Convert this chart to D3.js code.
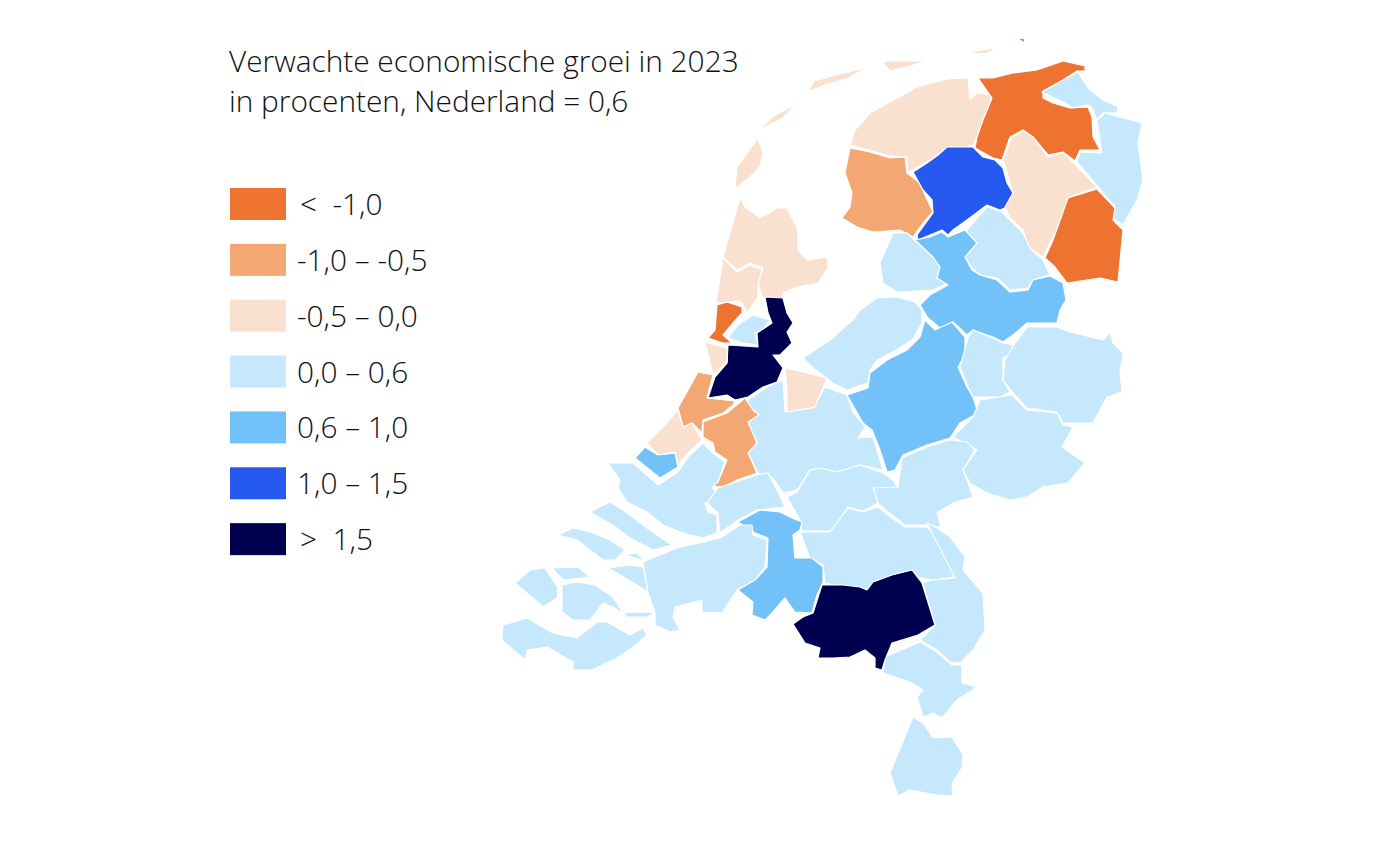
<!DOCTYPE html>
<html>
<head>
<meta charset="utf-8">
<script src="https://cdnjs.cloudflare.com/ajax/libs/d3/7.8.5/d3.min.js"></script>
<style>
  html, body { margin: 0; padding: 0; background: #fff; }
  svg { display: block; }
  text { font-family: "Open Sans", "Noto Sans", sans-serif; font-weight: 300; fill: #101014; }
</style>
</head>
<body>
<script>
// title + legend
var title_lines = ["Verwachte economische groei in 2023", "in procenten, Nederland = 0,6"];
var class_breaks = [-1.0, -0.5, 0.0, 0.6, 1.0, 1.5];
var class_colors = ["#ee7230", "#f3a873", "#fae0cf", "#c5e8fc", "#72c2f9", "#2559f0", "#000050"];
var class_labels = ["<  -1,0", "-1,0 – -0,5", "-0,5 – 0,0", "0,0 – 0,6", "0,6 – 1,0", "1,0 – 1,5", ">  1,5"];

var region_names = [
  "Rottumeroog", "Noord-Friesland", "Zuidwest-Friesland", "Zuidoost-Friesland", "Oost-Groningen overig",
  "Delfzijl e.o.", "Oost-Groningen", "Noord-Drenthe", "Zuidoost-Drenthe", "Zuidwest-Drenthe",
  "Noordoostpolder", "Noord-Overijssel", "Flevoland", "Veluwe", "Zuidwest-Overijssel", "Twente",
  "Achterhoek", "Arnhem/Nijmegen", "Utrecht", "Gooi en Vechtstreek", "Kop van Noord-Holland", "Alkmaar e.o.",
  "IJmond", "Zaanstreek", "Groot-Amsterdam", "Agglomeratie Haarlem", "Leiden e.o.", "Oost-Zuid-Holland",
  "Den Haag", "Delft en Westland", "Groot-Rijnmond", "Zuidoost-Zuid-Holland", "Rivierenland",
  "Noordoost-Noord-Brabant", "Noord-Limburg", "Midden-Limburg", "Zuid-Limburg", "Zuidoost-Noord-Brabant",
  "Midden-Noord-Brabant", "West-Noord-Brabant", "Zeeland"
];
var region_values = [
  -1.2, -0.2, -0.7, 1.2, -1.3,
  0.3, 0.4, -0.3, -1.2, 0.3,
  0.4, 0.8, 0.5, 0.8, 0.5, 0.4,
  0.4, 0.5, 0.5, -0.2, -0.2, -0.3,
  -1.1, 0.3, 1.8, -0.2, -0.7, -0.8,
  -0.1, 0.8, 0.4, 0.3, 0.5,
  0.4, 0.4, 0.3, 0.2, 1.9,
  0.8, 0.4, 0.3
];

// traced outlines, one list of rings per region
var region_shapes = [
  [[[1018,39],[1024,38],[1025,43],[1019,44]]],
  [[[850,145],[855,130],[870,113],[890,102],[917,87],[947,79],[968,78],[970,100],[977,93],[992,95],[987,113],[980,130],[973,145],[963,148],[948,147],[938,155],[927,162],[913,170],[908,173],[907,157],[890,156],[870,148]],
   [[758,138],[763,153],[760,167],[750,177],[738,187],[735,187],[737,167],[745,150]],
   [[759,130],[772,117],[796,104],[783,118],[770,129]],
   [[808,92],[814,81],[840,74],[868,67],[848,78],[825,85],[813,93]],
   [[883,63],[888,61],[927,61],[907,67],[890,71],[883,67]],
   [[967,54],[977,51],[1000,47],[987,53],[970,58]]],
  [[[850,148],[870,152],[890,158],[905,157],[907,173],[920,183],[925,195],[933,212],[923,223],[913,237],[900,230],[873,232],[857,227],[842,218],[850,207],[852,193],[845,173],[847,160]]],
  [[[913,172],[927,163],[938,155],[947,147],[963,147],[973,147],[983,157],[995,160],[1003,168],[1007,183],[1013,193],[1007,207],[1000,210],[987,205],[967,220],[953,230],[948,235],[942,230],[930,235],[918,240],[917,235],[933,213],[932,200],[923,190],[922,182]]],
  [[[978,78],[993,78],[1013,73],[1037,70],[1063,61],[1085,66],[1085,71],[1077,71],[1063,80],[1043,91],[1043,98],[1053,103],[1070,108],[1088,107],[1092,117],[1093,137],[1100,150],[1080,150],[1075,161],[1063,152],[1048,155],[1033,137],[1023,130],[1010,137],[1002,160],[993,158],[975,148],[977,137],[983,120],[992,98],[983,85]]],
  [[[1042,92],[1060,82],[1078,72],[1088,88],[1103,100],[1118,107],[1117,113],[1103,113],[1097,120],[1092,108],[1088,105],[1072,108],[1065,103],[1047,102]]],
  [[[1097,120],[1105,113],[1120,117],[1142,123],[1138,143],[1143,180],[1137,200],[1123,225],[1113,218],[1115,207],[1098,187],[1077,162],[1080,152],[1102,153],[1095,137]]],
  [[[1003,160],[1012,137],[1023,131],[1033,137],[1048,157],[1063,153],[1073,162],[1097,187],[1067,198],[1067,220],[1053,237],[1043,257],[1028,247],[1023,230],[1010,218],[1005,207],[1013,193],[1005,177]]],
  [[[1068,198],[1097,189],[1115,208],[1113,220],[1123,230],[1118,282],[1100,278],[1067,283],[1055,267],[1045,258],[1053,240],[1067,222]]],
  [[[967,230],[987,207],[1002,212],[1010,220],[1023,233],[1030,248],[1043,260],[1050,275],[1033,280],[1028,288],[1010,290],[997,278],[980,275],[972,268],[965,257],[977,243]]],
  [[[893,233],[907,233],[920,245],[933,257],[940,267],[937,278],[948,283],[933,290],[897,292],[883,283],[880,263],[882,247]]],
  [[[915,240],[930,237],[942,232],[948,237],[965,230],[977,243],[965,257],[972,270],[980,275],[997,280],[1010,292],[1028,290],[1033,280],[1050,276],[1063,283],[1066,300],[1060,310],[1057,323],[1027,323],[1013,335],[1003,342],[993,337],[973,330],[967,335],[953,322],[940,328],[928,318],[920,305],[930,295],[948,285],[937,278],[940,267],[933,257],[920,245]]],
  [[[803,358],[830,340],[853,320],[860,310],[877,298],[897,297],[915,302],[922,310],[922,323],[912,340],[893,352],[877,360],[870,370],[868,383],[847,390],[833,383],[813,368],[805,368]]],
  [[[847,395],[868,388],[870,373],[887,360],[907,350],[920,337],[925,320],[935,330],[952,322],[965,337],[965,355],[958,367],[967,387],[973,397],[978,413],[960,423],[950,438],[927,445],[903,455],[895,470],[887,472],[880,450],[872,430],[863,423],[853,410]],
   [[860,437],[868,430],[865,440]]],
  [[[968,338],[973,330],[993,338],[1003,343],[1013,345],[1012,353],[1003,358],[1003,380],[1010,392],[1000,397],[973,397],[968,387],[960,367],[967,355]]],
  [[[1015,343],[1027,327],[1057,327],[1070,332],[1103,340],[1110,332],[1113,343],[1123,353],[1120,373],[1122,392],[1107,397],[1093,423],[1063,423],[1057,412],[1027,408],[1013,393],[1003,380],[1005,360],[1013,353]]],
  [[[953,437],[973,417],[980,400],[1012,395],[1027,410],[1057,413],[1063,425],[1073,427],[1062,447],[1085,463],[1068,483],[1043,487],[1027,497],[1010,500],[987,493],[970,483],[963,470],[977,450],[967,440]]],
  [[[902,458],[927,447],[950,440],[967,442],[975,450],[963,470],[968,483],[973,497],[953,503],[937,513],[941,527],[927,525],[905,525],[888,512],[878,503],[873,487],[898,487],[890,475]]],
  [[[748,400],[767,387],[783,380],[785,412],[813,408],[825,387],[847,395],[853,412],[865,427],[858,438],[873,437],[883,470],[860,465],[837,472],[820,468],[810,470],[797,490],[783,493],[773,478],[758,473],[748,453],[757,443],[748,423],[758,413]]],
  [[[785,368],[803,372],[827,378],[815,407],[787,412],[787,390],[783,380]]],
  [[[740,198],[745,207],[760,218],[777,208],[787,208],[798,230],[798,250],[807,260],[827,257],[828,268],[818,283],[797,287],[783,293],[782,300],[762,297],[758,283],[763,268],[750,263],[737,270],[723,257],[733,220]]],
  [[[723,258],[737,272],[750,265],[762,270],[758,285],[758,297],[747,313],[743,305],[740,301],[716,303],[720,280]]],
  [[[717,305],[727,302],[742,307],[742,313],[733,323],[723,335],[732,343],[723,343],[708,338],[715,330],[713,320]]],
  [[[728,338],[738,325],[753,315],[770,320],[763,330],[755,333],[758,345],[743,343],[732,343]]],
  [[[765,297],[783,298],[787,313],[793,323],[787,332],[792,343],[780,355],[773,355],[783,368],[777,382],[763,387],[748,397],[735,400],[727,395],[708,398],[715,377],[727,363],[728,345],[758,347],[757,333],[772,323],[768,313],[755,313]]],
  [[[705,342],[727,348],[727,362],[713,375],[698,370]]],
  [[[698,372],[713,375],[707,398],[735,401],[733,405],[723,413],[703,420],[702,433],[692,423],[683,427],[678,408],[688,390]]],
  [[[745,398],[753,410],[759,415],[748,422],[757,443],[748,453],[757,473],[737,480],[723,487],[713,486],[720,477],[727,460],[715,452],[713,443],[703,437],[703,422],[727,413],[735,402]]],
  [[[647,443],[663,427],[678,410],[683,427],[692,423],[702,440],[688,453],[678,465],[675,452],[658,455],[645,445]]],
  [[[635,458],[645,447],[658,455],[675,453],[678,467],[660,478],[645,470]]],
  [[[608,463],[633,463],[658,485],[678,472],[688,457],[703,443],[713,453],[725,462],[718,482],[712,487],[720,498],[705,503],[708,512],[717,515],[717,533],[703,538],[683,533],[663,525],[647,512],[627,502],[618,488],[620,480],[608,472]]],
  [[[718,488],[757,475],[768,473],[778,492],[785,507],[757,510],[738,520],[720,533],[718,513],[707,503],[720,498]]],
  [[[787,497],[797,492],[810,470],[820,468],[837,472],[860,465],[883,473],[893,480],[897,487],[873,488],[878,503],[863,511],[848,507],[832,531],[802,531],[800,520],[787,510]]],
  [[[800,532],[830,532],[848,508],[863,512],[878,507],[892,518],[905,527],[927,527],[943,543],[955,577],[933,580],[918,577],[912,570],[892,575],[873,582],[868,590],[860,587],[843,587],[825,583],[823,565],[810,558],[797,558]]],
  [[[927,523],[937,528],[950,537],[965,557],[963,570],[983,593],[985,630],[973,650],[960,663],[950,662],[937,650],[920,640],[935,625],[923,583],[933,580],[955,578],[943,543]]],
  [[[920,642],[937,652],[952,665],[962,665],[962,683],[977,687],[957,700],[942,718],[933,713],[923,717],[917,697],[923,690],[910,682],[883,673],[885,657],[892,647]]],
  [[[913,717],[923,723],[933,738],[952,737],[963,755],[962,768],[952,783],[953,796],[937,795],[910,790],[898,796],[890,773],[907,740]]],
  [[[793,624],[803,617],[813,613],[822,585],[843,585],[860,587],[867,590],[873,582],[892,575],[912,570],[922,583],[935,625],[918,635],[892,643],[885,660],[882,670],[875,668],[875,658],[865,650],[850,657],[833,658],[818,658],[820,648],[805,643],[800,637]]],
  [[[738,522],[760,510],[780,512],[792,518],[802,522],[800,530],[793,535],[795,558],[812,558],[823,567],[823,582],[817,595],[812,613],[795,612],[785,598],[772,613],[765,620],[752,615],[753,602],[738,590],[757,578],[767,567],[768,538],[755,533],[753,523]],
   [[741,616],[747,616],[746,619]]],
  [[[643,562],[677,548],[703,542],[720,538],[740,525],[752,525],[753,535],[767,540],[765,567],[755,580],[737,590],[722,613],[702,612],[702,600],[675,607],[673,617],[680,630],[670,632],[655,625],[655,613],[648,593],[648,577]]],
  [[[590,512],[610,502],[623,510],[647,528],[672,545],[653,550],[630,538],[617,528],[603,512]],
   [[558,535],[573,528],[590,532],[610,540],[625,550],[615,560],[603,560],[590,550],[577,540],[563,545]],
   [[625,555],[637,553],[645,561],[633,563]],
   [[608,568],[630,565],[643,567],[648,592],[637,585],[622,582]],
   [[552,568],[578,567],[590,577],[563,580],[555,573]],
   [[515,583],[530,570],[545,568],[558,588],[557,598],[543,607],[532,603]],
   [[562,585],[577,582],[595,585],[613,597],[623,613],[647,612],[655,613],[647,617],[628,617],[613,607],[603,603],[590,620],[573,620],[562,612],[563,602]],
   [[502,640],[503,625],[527,618],[553,633],[577,638],[597,622],[607,622],[630,635],[643,628],[647,635],[633,647],[617,658],[592,670],[573,670],[573,662],[547,647],[527,650],[525,660],[510,660]]]
];

var width = 1400, height = 851;

var svg = d3.select("body").append("svg")
  .attr("width", width)
  .attr("height", height);

var color = d3.scaleThreshold().domain(class_breaks).range(class_colors);

// outlines are traced in page units so the projection is just identity
var path = d3.geoPath(d3.geoIdentity());

var regions = region_names.map(function(d, i) {
  return { type: "Feature", properties: { name: d, value: region_values[i] },
           geometry: { type: "MultiPolygon",
                       coordinates: region_shapes[i].map(function(ring) { return [ring]; }) } };
});

svg.append("g").selectAll("path")
    .data(regions)
  .enter().append("path")
    .attr("d", path)
    .attr("fill", function(d) { return color(d.properties.value); })
    .attr("stroke", "#fff")
    .attr("stroke-width", 1.2)
    .attr("stroke-linejoin", "round")
    .append("title").text(function(d) { return d.properties.name; });

svg.append("g").selectAll("text")
    .data(title_lines)
  .enter().append("text")
    .attr("x", 229)
    .attr("y", function(d, i) { return 72 + i * 40; })
    .attr("font-size", 29.8)
    .text(function(d) { return d; });

// legend
var legend_y = d3.scaleBand().domain(class_labels).range([188, 579]);

var legend = svg.append("g").selectAll("g")
    .data(class_labels)
  .enter().append("g")
    .attr("transform", function(d) { return "translate(230," + legend_y(d) + ")"; });

legend.append("rect")
    .attr("width", 56)
    .attr("height", 32)
    .attr("fill", function(d, i) { return class_colors[i]; });

legend.append("text")
    .attr("x", function(d) { return /^[<>]/.test(d) ? 70 : 67; })
    .attr("y", 27)
    .attr("font-size", 29.8)
    .style("white-space", "pre")
    .text(function(d) { return d; });
</script>
</body>
</html>
